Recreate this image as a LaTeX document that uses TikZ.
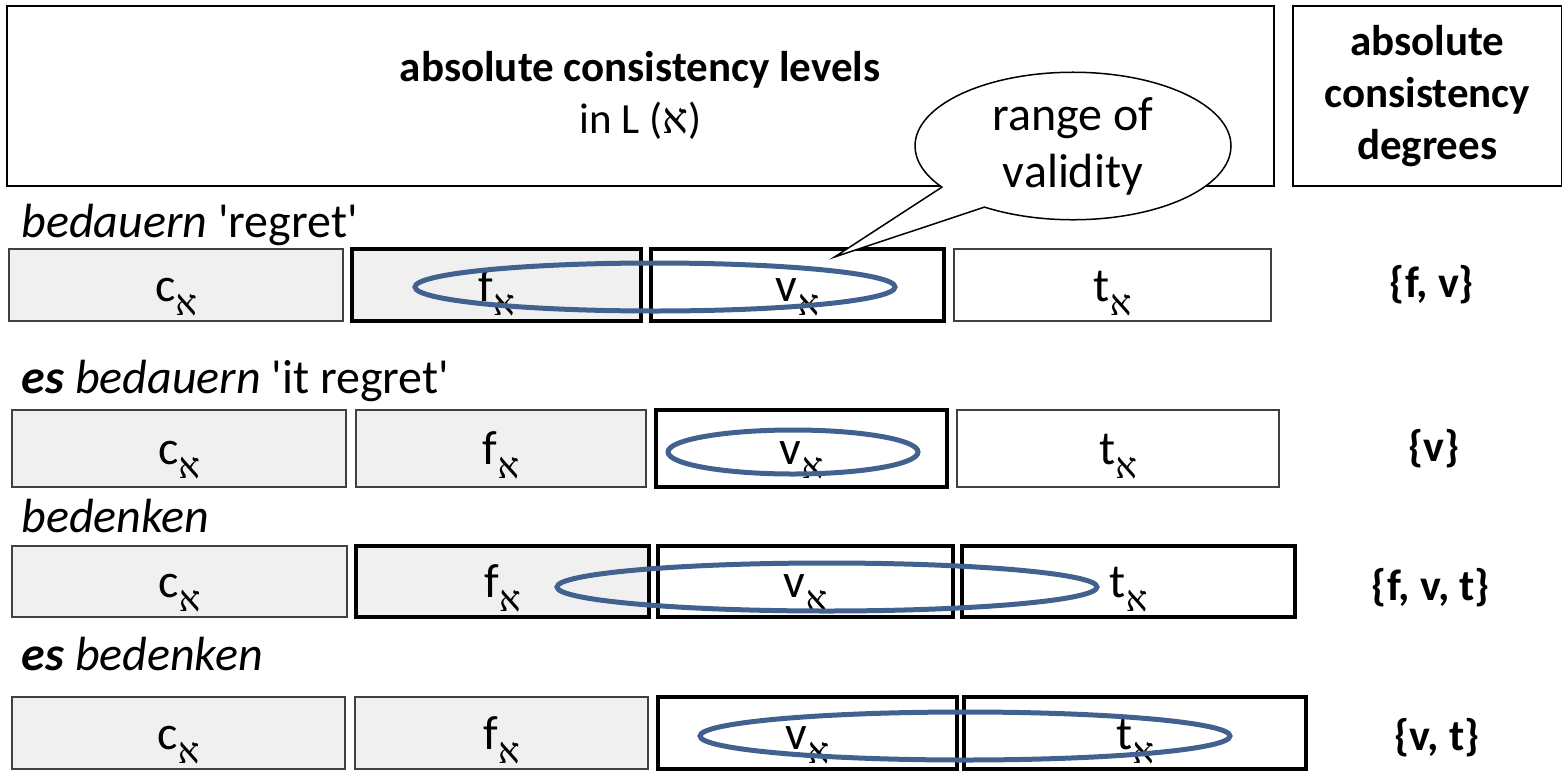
\documentclass[tikz,border=0pt]{standalone}
\usepackage{fontspec}
\setmainfont{Carlito}
\newfontfamily\hebfont[Script=Hebrew]{Liberation Serif}
\usetikzlibrary{positioning,shapes.callouts,calc}
\definecolor{rangeblue}{HTML}{41628F}
\newcommand{\alf}{{\hebfont א}}
\newcommand{\lvl}[1]{#1\raisebox{-0.3em}{\fontsize{36}{36}\selectfont\alf}}
\newcommand{\q}{\textquotesingle}

\tikzset{
  level/.style={draw=black!75, line width=1.5pt, minimum height=72pt, inner sep=0pt, outer sep=0pt,
    text height=32pt, text depth=0pt, font=\fontsize{48}{48}\selectfont},
  low/.style={level, fill=black!6},
  high/.style={draw=black, line width=4pt},
  validity/.style={draw=rangeblue, line width=5pt},
  verb/.style={anchor=base west, font=\fontsize{48}{48}\selectfont},
  degree/.style={anchor=base, font=\bfseries\fontsize{44}{44}\selectfont}
}

\begin{document}
\begin{tikzpicture}[x=1pt, y=-1pt]
\useasboundingbox (0,0) rectangle (1562,771);

% headers
\node (levels) [draw, line width=1.5pt, minimum width=1267pt, minimum height=180pt, anchor=north west,
  align=center, font=\fontsize{43}{52}\selectfont] at (6,5) {\textbf{absolute consistency levels}\\in L (\alf)};
\node (degrees) [draw, line width=1.5pt, minimum width=269pt, minimum height=180pt, anchor=north west,
  align=center, font=\bfseries\fontsize{43}{52}\selectfont] at (1292,5) {absolute\\consistency\\degrees};

% bedauern
\node (w1) [verb] at (18,237) {\textit{bedauern} \q regret\q};
\node (c1) [low, minimum width=334pt, anchor=north west] at (9,249) {\lvl{c}};
\node (f1) [low, high, minimum width=289pt, right=9pt of c1] {\lvl{f}};
\node (v1) [level, high, minimum width=293pt, right=10pt of f1] {\lvl{v}};
\node (t1) [level, minimum width=317pt, right=10pt of v1] {\lvl{t}};
\node (d1) [degree] at (1432,297) {\{f, v\}};
\draw[validity] (655,287) ellipse [x radius=240, y radius=24];

% es bedauern
\node (w2) [verb] at (18,393) {\textbf{\textit{es}} \textit{bedauern} \q it regret\q};
\node (c2) [low, minimum width=334pt, minimum height=77pt, anchor=north west] at (12,410) {\lvl{c}};
\node (f2) [low, minimum width=290pt, minimum height=77pt, right=10pt of c2] {\lvl{f}};
\node (v2) [level, high, minimum width=291pt, minimum height=77pt, right=10pt of f2] {\lvl{v}};
\node (t2) [level, minimum width=322pt, minimum height=77pt, right=10pt of v2] {\lvl{t}};
\node (d2) [degree] at (1434,461) {\{v\}};
\draw[validity] (793,452) ellipse [x radius=125, y radius=22];

% bedenken
\node (w3) [verb] at (18,532) {\textit{bedenken}};
\node (c3) [low, minimum width=335pt, minimum height=71pt, anchor=north west] at (12,546) {\lvl{c}};
\node (f3) [low, high, minimum width=293pt, minimum height=71pt, right=9pt of c3] {\lvl{f}};
\node (v3) [level, high, minimum width=295pt, minimum height=71pt, right=9pt of f3] {\lvl{v}};
\node (t3) [level, high, minimum width=333pt, minimum height=71pt, right=9pt of v3] {\lvl{t}};
\node (d3) [degree] at (1431,600) {\{f, v, t\}};
\draw[validity] (827,587) ellipse [x radius=270, y radius=24];

% es bedenken
\node (w4) [verb] at (18,670) {\textbf{\textit{es}} \textit{bedenken}};
\node (c4) [low, minimum width=333pt, minimum height=72pt, anchor=north west] at (12,697) {\lvl{c}};
\node (f4) [low, minimum width=293pt, minimum height=72pt, right=10pt of c4] {\lvl{f}};
\node (v4) [level, high, minimum width=299pt, minimum height=72pt, right=10pt of f4] {\lvl{v}};
\node (t4) [level, high, minimum width=342pt, minimum height=72pt, right=7pt of v4] {\lvl{t}};
\node (d4) [degree] at (1437,750) {\{v, t\}};
\draw[validity] (965,736) ellipse [x radius=265, y radius=24];

% callout
\node (range) [ellipse callout, draw, fill=white, line width=1.5pt, minimum width=316pt, minimum height=138pt,
  align=center, font=\fontsize{48}{57}\selectfont, callout pointer arc=22,
  callout absolute pointer={($(v1.north)+(37,8)$)}] at (1073,146) {range of\\validity};
\end{tikzpicture}
\end{document}
